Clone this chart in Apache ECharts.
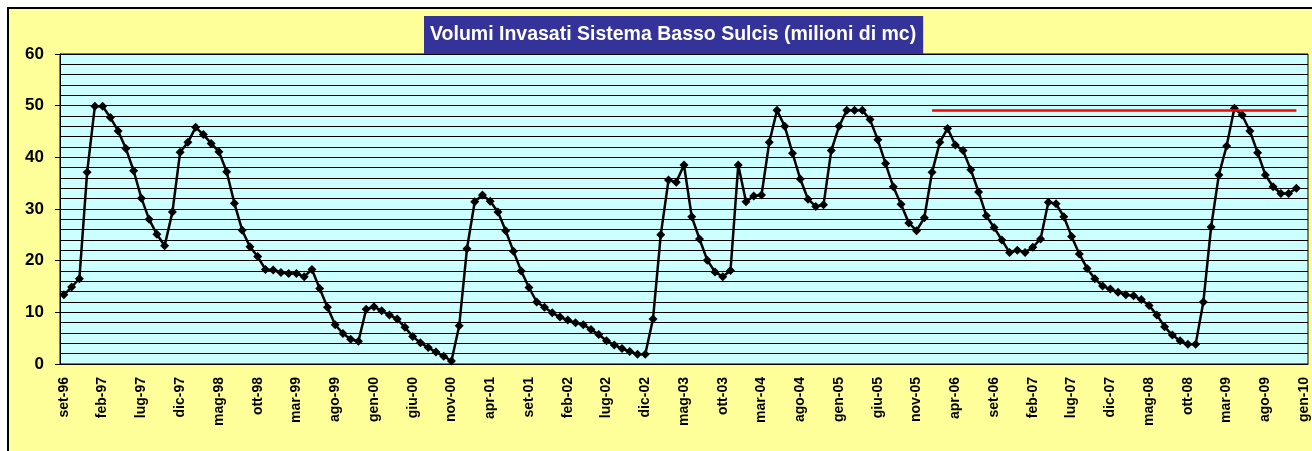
<!DOCTYPE html>
<html>
<head>
<meta charset="utf-8">
<title>Volumi Invasati Sistema Basso Sulcis</title>
<script src="https://cdn.jsdelivr.net/npm/echarts@6/dist/echarts.min.js"></script>
<style>
    html, body { margin: 0; padding: 0; background: #fff; overflow: hidden; }
    #frame {
        position: absolute; left: 7px; top: 7px; width: 1320px; height: 470px;
        border: 2px solid #000; background: #FFFF99;
    }
    #chart { position: absolute; left: 0; top: 0; width: 1312px; height: 451px; }
</style>
</head>
<body>
<div id="frame"></div>
<div id="chart"></div>
<script>
    // mesi in italiano, per le etichette dell'asse x
    const monthNames = ['gen', 'feb', 'mar', 'apr', 'mag', 'giu', 'lug', 'ago', 'set', 'ott', 'nov', 'dic'];
    const startYear = 1996;
    const startMonth = 8; // set-96
    const monthCount = 161; // set-96 .. gen-10

    // volumi invasati (milioni di mc), uno per mese; gen-10 senza dato
    const volumes = [
        13.4, 14.9, 16.5, 37.1, 49.9, 49.9, 47.7, 45.1, 41.7, 37.4,
        32.1, 28.0, 25.1, 22.9, 29.4, 41.0, 42.9, 45.8, 44.4, 42.7,
        41.1, 37.2, 31.1, 25.9, 22.7, 20.8, 18.3, 18.2, 17.7, 17.5,
        17.5, 16.9, 18.3, 14.6, 11.0, 7.6, 5.9, 4.8, 4.4, 10.6,
        11.1, 10.3, 9.5, 8.7, 7.1, 5.3, 4.1, 3.2, 2.3, 1.5,
        0.6, 7.4, 22.3, 31.4, 32.7, 31.5, 29.4, 25.8, 21.8, 18.0,
        14.8, 12.0, 11.0, 9.9, 9.1, 8.5, 8.0, 7.6, 6.7, 5.7,
        4.5, 3.7, 3.0, 2.4, 1.9, 1.9, 8.7, 25.0, 35.6, 35.2,
        38.5, 28.5, 24.2, 20.1, 17.8, 16.9, 18.1, 38.5, 31.4, 32.5,
        32.7, 42.9, 49.1, 46.0, 40.8, 35.8, 31.9, 30.5, 30.8, 41.3,
        46.0, 49.1, 49.1, 49.1, 47.3, 43.4, 38.8, 34.3, 30.9, 27.3,
        25.8, 28.3, 37.1, 42.9, 45.6, 42.4, 41.3, 37.6, 33.3, 28.7,
        26.4, 24.0, 21.6, 22.0, 21.6, 22.6, 24.2, 31.3, 31.0, 28.5,
        24.7, 21.3, 18.5, 16.5, 15.1, 14.5, 13.9, 13.4, 13.2, 12.5,
        11.3, 9.5, 7.2, 5.6, 4.5, 3.8, 3.8, 12.0, 26.5, 36.6,
        42.2, 49.5, 48.2, 45.1, 40.9, 36.6, 34.3, 33.0, 33.0, 34.0,
        null
    ];

    // linea rossa di riferimento
    const refLevel = 49.2;
    const refFrom = 'gen-06';
    const refTo = 'dic-09';

    const titleText = 'Volumi Invasati Sistema Basso Sulcis (milioni di mc)';

    const categories = [];
    for (let i = 0; i < monthCount; i++) {
        const m = (startMonth + i) % 12;
        const y = startYear + Math.floor((startMonth + i) / 12);
        categories.push(monthNames[m] + '-' + String(y % 100).padStart(2, '0'));
    }

    const chart = echarts.init(document.getElementById('chart'), null, { renderer: 'canvas' });

    chart.setOption({
        backgroundColor: 'transparent',
        animation: false,
        textStyle: { fontFamily: 'Liberation Sans, Arial, sans-serif' },
        title: {
            text: titleText,
            left: 424,
            top: 16,
            backgroundColor: '#333399',
            padding: [9, 7, 9, 6],
            textStyle: {
                color: '#fff',
                fontSize: 19.5,
                fontWeight: 'bold',
                fontFamily: 'Liberation Sans, Arial, sans-serif'
            }
        },
        grid: {
            left: 60,
            right: 4,
            top: 54,
            bottom: 87,
            show: true,
            backgroundColor: '#CCFFFF',
            borderColor: '#000',
            borderWidth: 1
        },
        xAxis: {
            type: 'category',
            data: categories,
            boundaryGap: true,
            axisLine: { lineStyle: { color: '#000', width: 1 } },
            axisTick: {
                interval: 4,
                alignWithLabel: false,
                length: 5,
                lineStyle: { color: '#000' }
            },
            axisLabel: {
                interval: 4,
                rotate: 90,
                margin: 13,
                color: '#000',
                fontSize: 14,
                fontWeight: 'bold'
            },
            splitLine: { show: false }
        },
        yAxis: {
            type: 'value',
            min: 0,
            max: 60,
            interval: 10,
            axisLine: { show: true, lineStyle: { color: '#000', width: 1 } },
            axisTick: { show: true, length: 5, lineStyle: { color: '#000' } },
            axisLabel: {
                margin: 16,
                color: '#000',
                fontSize: 17,
                fontWeight: 'bold'
            },
            splitLine: { show: true, lineStyle: { color: '#000', width: 1 } },
            minorTick: { show: false, splitNumber: 5 },
            minorSplitLine: { show: true, lineStyle: { color: '#000', width: 1 } }
        },
        series: [
            {
                name: 'Volumi',
                type: 'line',
                data: volumes,
                symbol: 'diamond',
                symbolSize: 9,
                showAllSymbol: true,
                connectNulls: false,
                lineStyle: { color: '#000', width: 2.5 },
                itemStyle: { color: '#000' },
                markLine: {
                    silent: true,
                    symbol: 'none',
                    label: { show: false },
                    lineStyle: { color: '#FF0000', width: 2.5, type: 'solid' },
                    data: [[
                        { xAxis: refFrom, yAxis: refLevel },
                        { xAxis: refTo, yAxis: refLevel }
                    ]]
                }
            }
        ]
    });
</script>
</body>
</html>
